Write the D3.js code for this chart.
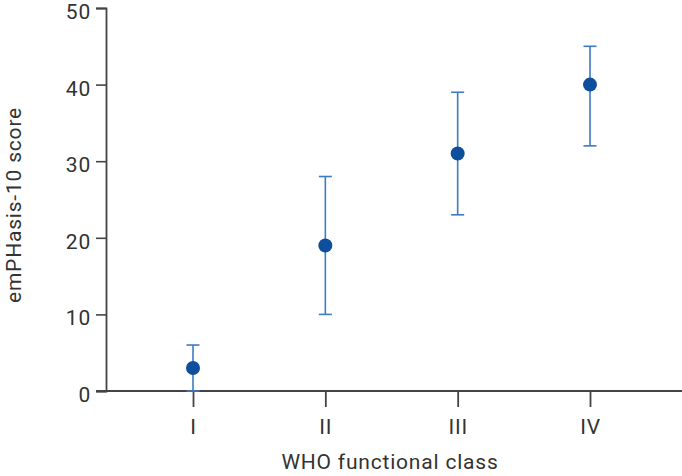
<!DOCTYPE html>
<html><head><meta charset="utf-8">
<script src="https://cdn.jsdelivr.net/npm/d3@7"></script>
<style>body{margin:0;background:#fff}svg{display:block}text{font-family:Roboto,"Noto Sans",sans-serif;fill:#333}</style>
</head><body><svg id="c" width="682" height="476"></svg>
<script>
const categories = ["I","II","III","IV"];
const means = [3,19,31,40];
const lower = [0,10,23,32];
const upper = [6,28,39,45];
const yTicks = [0,10,20,30,40,50];

const svg = d3.select("#c");
const x = d3.scalePoint().domain(categories).range([193,590]);
const y = d3.scaleLinear().domain([0,50]).range([391,8]);
const axisColor = "#444";
const fs = "21px", ls = "0.8px";

// y axis
const ya = svg.append("g").attr("transform","translate(106,0)")
  .call(d3.axisLeft(y).tickValues(yTicks).tickSize(10).tickPadding(5).tickFormat(d3.format("d")));
ya.select(".domain").attr("stroke",axisColor).attr("stroke-width",1.8);
ya.selectAll(".tick line").attr("stroke",axisColor).attr("stroke-width",1.6);
ya.selectAll(".tick text").style("font-size",fs).style("letter-spacing",ls).attr("fill","#333").attr("dy","0.5em");

// x axis
svg.append("line").attr("x1",96).attr("x2",682).attr("y1",y(0)).attr("y2",y(0))
  .attr("stroke",axisColor).attr("stroke-width",1.8);
const xa = svg.append("g").attr("transform",`translate(0,${y(0)})`)
  .call(d3.axisBottom(x).tickSize(16).tickPadding(12));
xa.select(".domain").remove();
xa.selectAll(".tick line").attr("stroke",axisColor).attr("stroke-width",1.8);
xa.selectAll(".tick text").style("font-size",fs).style("letter-spacing",ls).attr("fill","#333");

// error bars
const blue = "#3b7cc4", dot = "#0d4f9c";
const g = svg.append("g");
categories.forEach((c,i)=>{
  const cx = x(c);
  g.append("line").attr("x1",cx).attr("x2",cx).attr("y1",y(lower[i])).attr("y2",y(upper[i]))
    .attr("stroke",blue).attr("stroke-width",1.6);
  [lower[i],upper[i]].forEach(v=>{
    g.append("line").attr("x1",cx-6.5).attr("x2",cx+6.5).attr("y1",y(v)).attr("y2",y(v))
      .attr("stroke",blue).attr("stroke-width",1.6);
  });
  g.append("circle").attr("cx",cx).attr("cy",y(means[i])).attr("r",7).attr("fill",dot);
});

// titles
svg.append("text").attr("x",390).attr("y",469).attr("text-anchor","middle")
  .style("font-size",fs).style("letter-spacing",ls).text("WHO functional class");
svg.append("text").attr("transform","translate(21,205) rotate(-90)").attr("text-anchor","middle")
  .style("font-size",fs).style("letter-spacing",ls).text("emPHasis-10 score");
</script></body></html>
